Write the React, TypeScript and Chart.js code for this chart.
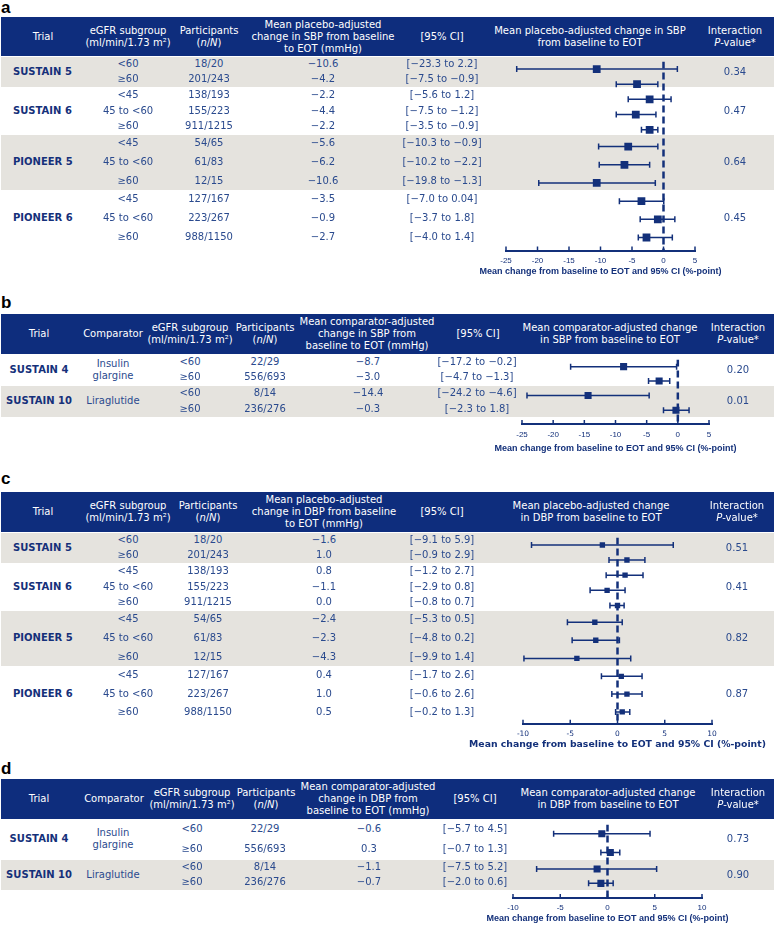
import React, { useEffect, useRef } from "react";
import { Chart, registerables } from "chart.js";
Chart.register(...registerables);

// ---------------- colours ----------------
const NAVY = "#13307a";
const HEADER_BG = "#0e2d7d";
const GREY = "#e5e3de";
const TEXT = "#2a4a8e";
const TRIAL = "#15307a";

// ---------------- panel a data (SBP, placebo) ----------------
const aTrials = ["SUSTAIN 5", "SUSTAIN 6", "PIONEER 5", "PIONEER 6"];
const aGroupSizes = [2, 3, 3, 3];
const aSubgroups = ["<60", "≥60", "<45", "45 to <60", "≥60", "<45", "45 to <60", "≥60", "<45", "45 to <60", "≥60"];
const aParticipants = ["18/20", "201/243", "138/193", "155/223", "911/1215", "54/65", "61/83", "12/15", "127/167", "223/267", "988/1150"];
const aMeans = [-10.6, -4.2, -2.2, -4.4, -2.2, -5.6, -6.2, -10.6, -3.5, -0.9, -2.7];
const aLow = [-23.3, -7.5, -5.6, -7.5, -3.5, -10.3, -10.2, -19.8, -7.0, -3.7, -4.0];
const aHigh = [2.2, -0.9, 1.2, -1.2, -0.9, -0.9, -2.2, -1.3, 0.04, 1.8, 1.4];
const aPValues = ["0.34", "0.47", "0.64", "0.45"];
const aTicks = [-25, -20, -15, -10, -5, 0, 5];

// ---------------- panel b data (SBP, comparator) ----------------
const bTrials = ["SUSTAIN 4", "SUSTAIN 10"];
const bComparators = [["Insulin", "glargine"], ["Liraglutide"]];
const bGroupSizes = [2, 2];
const bSubgroups = ["<60", "≥60", "<60", "≥60"];
const bParticipants = ["22/29", "556/693", "8/14", "236/276"];
const bMeans = [-8.7, -3.0, -14.4, -0.3];
const bLow = [-17.2, -4.7, -24.2, -2.3];
const bHigh = [-0.2, -1.3, -4.6, 1.8];
const bPValues = ["0.20", "0.01"];
const bTicks = [-25, -20, -15, -10, -5, 0, 5];

// ---------------- panel c data (DBP, placebo) ----------------
const cTrials = ["SUSTAIN 5", "SUSTAIN 6", "PIONEER 5", "PIONEER 6"];
const cGroupSizes = [2, 3, 3, 3];
const cSubgroups = ["<60", "≥60", "<45", "45 to <60", "≥60", "<45", "45 to <60", "≥60", "<45", "45 to <60", "≥60"];
const cParticipants = ["18/20", "201/243", "138/193", "155/223", "911/1215", "54/65", "61/83", "12/15", "127/167", "223/267", "988/1150"];
const cMeans = [-1.6, 1.0, 0.8, -1.1, 0.0, -2.4, -2.3, -4.3, 0.4, 1.0, 0.5];
const cLow = [-9.1, -0.9, -1.2, -2.9, -0.8, -5.3, -4.8, -9.9, -1.7, -0.6, -0.2];
const cHigh = [5.9, 2.9, 2.7, 0.8, 0.7, 0.5, 0.2, 1.4, 2.6, 2.6, 1.3];
const cPValues = ["0.51", "0.41", "0.82", "0.87"];
const cTicks = [-10, -5, 0, 5, 10];

// ---------------- panel d data (DBP, comparator) ----------------
const dTrials = ["SUSTAIN 4", "SUSTAIN 10"];
const dComparators = [["Insulin", "glargine"], ["Liraglutide"]];
const dGroupSizes = [2, 2];
const dSubgroups = ["<60", "≥60", "<60", "≥60"];
const dParticipants = ["22/29", "556/693", "8/14", "236/276"];
const dMeans = [-0.6, 0.3, -1.1, -0.7];
const dLow = [-5.7, -0.7, -7.5, -2.0];
const dHigh = [4.5, 1.3, 5.2, 0.6];
const dPValues = ["0.73", "0.90"];
const dTicks = [-10, -5, 0, 5, 10];

const AXIS_TITLE = "Mean change from baseline to EOT and 95% CI (%-point)";

function fmt(v: number): string {
  const a = Math.abs(v);
  const s = Math.round(a * 10) === a * 10 ? a.toFixed(1) : String(a);
  return (v < 0 ? "\u2212" : "") + s;
}

type Head = { x: number; lines: React.ReactNode[] };
type PanelCfg = {
  letter: string;
  letterY: number;
  headerTop: number;
  headerBottom: number;
  headers: Head[];
  trials: string[];
  trialX: number;
  trialAlign: "left" | "center";
  comparators?: string[][];
  comparatorX?: number;
  groupSizes: number[];
  bandHeights: number[];
  greyBands: boolean[];
  subgroups: string[];
  participants: string[];
  means: number[];
  low: number[];
  high: number[];
  pValues: string[];
  cols: { egfr: number; part: number; mean: number; ci: number; p: number };
  axisY: number;
  axisLeft: number;
  axisRight: number;
  ticks: number[];
  tickOff: number;
  titleOff: number;
  markerR: number;
  titleFamily: string;
  titleSize: number;
  tickFamily: string;
  tickSize: number;
};

const CANVAS_LEFT = 400;
const CANVAS_W = 377;

// small upward tick marks + the axis title (drawn without width compression)
const axisDecor = {
  id: "axisDecor",
  afterDraw(chart: any, _args: any, opts: any) {
    const s = chart.scales.x;
    const ctx = chart.ctx;
    ctx.save();
    ctx.strokeStyle = NAVY;
    ctx.lineWidth = 1.5;
    s.ticks.forEach((_t: any, i: number) => {
      const px = s.getPixelForTick(i);
      ctx.beginPath();
      ctx.moveTo(px, s.top);
      ctx.lineTo(px, s.top - 4);
      ctx.stroke();
    });
    ctx.fillStyle = NAVY;
    ctx.font = `bold ${opts.size}px ${opts.family}`;
    ctx.textAlign = "center";
    ctx.textBaseline = "middle";
    ctx.fillText(opts.text, (s.left + s.right) / 2, s.top + opts.offset);
    ctx.restore();
  },
};

function rowCenters(cfg: PanelCfg): { rows: number[]; groups: { top: number; h: number }[] } {
  const rows: number[] = [];
  const groups: { top: number; h: number }[] = [];
  let top = 0;
  cfg.groupSizes.forEach((n, g) => {
    const h = cfg.bandHeights[g];
    const pitch = h / n;
    for (let i = 0; i < n; i++) rows.push(top + pitch * (i + 0.5));
    groups.push({ top, h });
    top += h;
  });
  return { rows, groups };
}

function Forest({ cfg }: { cfg: PanelCfg }) {
  const ref = useRef<HTMLCanvasElement | null>(null);
  const rowsTop = cfg.headerBottom;
  const areaH = cfg.axisY - rowsTop;
  const scaleH = cfg.titleOff + cfg.titleSize;
  const H = Math.round(areaH + scaleH);
  useEffect(() => {
    const { rows } = rowCenters(cfg);
    const datasets: any[] = [];
    datasets.push({
      data: cfg.means.map((m, i) => ({ x: m, y: rows[i] })),
      pointStyle: "rect",
      pointRadius: cfg.markerR,
      backgroundColor: NAVY,
      borderColor: NAVY,
      borderWidth: 0,
      pointBorderWidth: 0,
      showLine: false,
    });
    cfg.low.forEach((lo, i) => {
      datasets.push({
        data: [
          { x: lo, y: rows[i] },
          { x: cfg.high[i], y: rows[i] },
        ],
        showLine: true,
        borderColor: NAVY,
        borderWidth: 1.5,
        pointStyle: "line",
        pointRotation: 90,
        pointRadius: 3,
        pointBorderWidth: 1.5,
        pointBorderColor: NAVY,
        backgroundColor: NAVY,
      });
    });
    datasets.push({
      data: [
        { x: 0, y: 0 },
        { x: 0, y: areaH },
      ],
      showLine: true,
      borderColor: NAVY,
      borderWidth: 2.5,
      borderDash: [7, 4],
      pointRadius: 0,
    });
    const chart = new Chart(ref.current as HTMLCanvasElement, {
      type: "scatter",
      data: { datasets },
      options: {
        responsive: false,
        animation: false,
        devicePixelRatio: 1,
        layout: {
          padding: {
            left: cfg.axisLeft - CANVAS_LEFT,
            right: CANVAS_LEFT + CANVAS_W - cfg.axisRight,
            top: 0,
            bottom: 0,
          },
        },
        plugins: {
          legend: { display: false },
          tooltip: { enabled: false },
          axisDecor: { text: AXIS_TITLE, size: cfg.titleSize, family: cfg.titleFamily, offset: cfg.titleOff },
        },
        scales: {
          x: {
            type: "linear",
            min: cfg.ticks[0],
            max: cfg.ticks[cfg.ticks.length - 1],
            afterBuildTicks: (s: any) => {
              s.ticks = cfg.ticks.map((v) => ({ value: v }));
            },
            afterFit: (s: any) => {
              s.height = scaleH;
              s.paddingLeft = 0;
              s.paddingRight = 0;
            },
            ticks: {
              autoSkip: false,
              maxRotation: 0,
              padding: cfg.tickOff - cfg.tickSize * 0.6,
              color: NAVY,
              font: { family: cfg.tickFamily, size: cfg.tickSize },
            },
            grid: { display: false, drawTicks: false },
            border: { display: true, color: NAVY, width: 2 },
            title: { display: false },
          },
          y: { type: "linear", display: false, min: 0, max: areaH, reverse: true },
        },
      } as any,
      plugins: [axisDecor],
    });
    return () => chart.destroy();
  }, []);
  return (
    <canvas
      ref={ref}
      width={CANVAS_W}
      height={H}
      style={{ position: "absolute", left: CANVAS_LEFT, top: rowsTop, width: CANVAS_W, height: H }}
    />
  );
}

function T({
  x,
  y,
  children,
  align = "center",
  style,
}: {
  x: number;
  y: number;
  children: React.ReactNode;
  align?: "left" | "center";
  style?: React.CSSProperties;
}) {
  return (
    <div
      style={{
        position: "absolute",
        left: x,
        top: y,
        transform: `translate(${align === "center" ? "-50%" : "0"}, -50%)`,
        whiteSpace: "nowrap",
        textAlign: align,
        lineHeight: "12px",
        color: TEXT,
        ...style,
      }}
    >
      {children}
    </div>
  );
}

function Panel({ cfg }: { cfg: PanelCfg }) {
  const { rows, groups } = rowCenters(cfg);
  const rt = cfg.headerBottom;
  const hy = (cfg.headerTop + cfg.headerBottom) / 2;
  return (
    <>
      <T
        x={1}
        y={cfg.letterY}
        align="left"
        style={{ fontFamily: "Liberation Sans", fontWeight: "bold", fontSize: 17, color: "#000", lineHeight: "19px" }}
      >
        {cfg.letter}
      </T>
      <div
        style={{
          position: "absolute",
          left: 1,
          top: cfg.headerTop,
          width: 773,
          height: cfg.headerBottom - cfg.headerTop,
          background: HEADER_BG,
        }}
      />
      {groups.map((g, i) =>
        cfg.greyBands[i] ? (
          <div
            key={"band" + i}
            style={{ position: "absolute", left: 1, top: rt + g.top + 1, width: 773, height: g.h - 1, background: GREY }}
          />
        ) : null
      )}
      <Forest cfg={cfg} />
      {cfg.headers.map((h, i) => (
        <T key={"h" + i} x={h.x} y={hy} style={{ color: "#fff" }}>
          {h.lines.map((l, j) => (
            <div key={j}>{l}</div>
          ))}
        </T>
      ))}
      {cfg.groupSizes.map((_n, g) => {
        const gy = rt + groups[g].top + groups[g].h / 2;
        const els = [
          <T
            key={"t" + g}
            x={cfg.trialX}
            y={gy}
            align={cfg.trialAlign}
            style={{ fontWeight: "bold", color: TRIAL }}
          >
            {cfg.trials[g]}
          </T>,
          <T key={"p" + g} x={cfg.cols.p} y={gy}>
            {cfg.pValues[g]}
          </T>,
        ];
        if (cfg.comparators && cfg.comparatorX) {
          els.push(
            <T key={"c" + g} x={cfg.comparatorX} y={gy}>
              {cfg.comparators[g].map((l, j) => (
                <div key={j}>{l}</div>
              ))}
            </T>
          );
        }
        return els;
      })}
      {rows.map((ry, i) => {
        const y = rt + ry;
        return (
          <React.Fragment key={"r" + i}>
            <T x={cfg.cols.egfr} y={y}>{cfg.subgroups[i]}</T>
            <T x={cfg.cols.part} y={y}>{cfg.participants[i]}</T>
            <T x={cfg.cols.mean} y={y}>{fmt(cfg.means[i])}</T>
            <T x={cfg.cols.ci} y={y}>
              [{fmt(cfg.low[i])} to {fmt(cfg.high[i])}]
            </T>
          </React.Fragment>
        );
      })}
    </>
  );
}

const nN = (
  <>
    (<i>n</i>/<i>N</i>)
  </>
);
const pv = (
  <>
    <i>P</i>-value*
  </>
);

const panelA: PanelCfg = {
  letter: "a",
  letterY: 7,
  headerTop: 17,
  headerBottom: 56,
  headers: [
    { x: 43, lines: ["Trial"] },
    { x: 128, lines: ["eGFR subgroup", "(ml/min/1.73 m²)"] },
    { x: 209, lines: ["Participants", nN] },
    { x: 323, lines: ["Mean placebo-adjusted", "change in SBP from baseline", "to EOT (mmHg)"] },
    { x: 442, lines: ["[95% CI]"] },
    { x: 590, lines: ["Mean placebo-adjusted change in SBP", "from baseline to EOT"] },
    { x: 735, lines: ["Interaction", pv] },
  ],
  trials: aTrials,
  trialX: 13,
  trialAlign: "left",
  groupSizes: aGroupSizes,
  bandHeights: [31, 47, 56, 56],
  greyBands: [true, false, true, false],
  subgroups: aSubgroups,
  participants: aParticipants,
  means: aMeans,
  low: aLow,
  high: aHigh,
  pValues: aPValues,
  cols: { egfr: 128, part: 209, mean: 323, ci: 442, p: 735 },
  axisY: 250,
  axisLeft: 506,
  axisRight: 695,
  ticks: aTicks,
  tickOff: 10.5,
  titleOff: 21.5,
  markerR: 5.5,
  titleFamily: "Liberation Sans",
  titleSize: 9,
  tickFamily: "Liberation Sans",
  tickSize: 8,
};

const panelB: PanelCfg = {
  letter: "b",
  letterY: 302,
  headerTop: 314,
  headerBottom: 354,
  headers: [
    { x: 39, lines: ["Trial"] },
    { x: 113, lines: ["Comparator"] },
    { x: 190, lines: ["eGFR subgroup", "(ml/min/1.73 m²)"] },
    { x: 265, lines: ["Participants", nN] },
    { x: 367, lines: ["Mean comparator-adjusted", "change in SBP from", "baseline to EOT (mmHg)"] },
    { x: 478, lines: ["[95% CI]"] },
    { x: 610, lines: ["Mean comparator-adjusted change", "in SBP from baseline to EOT"] },
    { x: 738, lines: ["Interaction", pv] },
  ],
  trials: bTrials,
  trialX: 39,
  trialAlign: "center",
  comparators: bComparators,
  comparatorX: 113,
  groupSizes: bGroupSizes,
  bandHeights: [31, 32],
  greyBands: [false, true],
  subgroups: bSubgroups,
  participants: bParticipants,
  means: bMeans,
  low: bLow,
  high: bHigh,
  pValues: bPValues,
  cols: { egfr: 190, part: 265, mean: 368, ci: 477, p: 738 },
  axisY: 424,
  axisLeft: 522,
  axisRight: 709,
  ticks: bTicks,
  tickOff: 11,
  titleOff: 25,
  markerR: 5,
  titleFamily: "Liberation Sans",
  titleSize: 9,
  tickFamily: "Liberation Sans",
  tickSize: 8,
};

const panelC: PanelCfg = {
  letter: "c",
  letterY: 478,
  headerTop: 492,
  headerBottom: 532,
  headers: [
    { x: 43, lines: ["Trial"] },
    { x: 128, lines: ["eGFR subgroup", "(ml/min/1.73 m²)"] },
    { x: 208, lines: ["Participants", nN] },
    { x: 324, lines: ["Mean placebo-adjusted", "change in DBP from baseline", "to EOT (mmHg)"] },
    { x: 442, lines: ["[95% CI]"] },
    { x: 591, lines: ["Mean placebo-adjusted change", "in DBP from baseline to EOT"] },
    { x: 737, lines: ["Interaction", pv] },
  ],
  trials: cTrials,
  trialX: 13,
  trialAlign: "left",
  groupSizes: cGroupSizes,
  bandHeights: [31, 47, 56, 55],
  greyBands: [true, false, true, false],
  subgroups: cSubgroups,
  participants: cParticipants,
  means: cMeans,
  low: cLow,
  high: cHigh,
  pValues: cPValues,
  cols: { egfr: 128, part: 208, mean: 324, ci: 442, p: 737 },
  axisY: 724,
  axisLeft: 523,
  axisRight: 712,
  ticks: cTicks,
  tickOff: 10,
  titleOff: 21,
  markerR: 3.8,
  titleFamily: "DejaVu Sans",
  titleSize: 9.3,
  tickFamily: "DejaVu Sans",
  tickSize: 7.5,
};

const panelD: PanelCfg = {
  letter: "d",
  letterY: 768,
  headerTop: 779,
  headerBottom: 819,
  headers: [
    { x: 39, lines: ["Trial"] },
    { x: 114, lines: ["Comparator"] },
    { x: 192, lines: ["eGFR subgroup", "(ml/min/1.73 m²)"] },
    { x: 266, lines: ["Participants", nN] },
    { x: 368, lines: ["Mean comparator-adjusted", "change in DBP from", "baseline to EOT (mmHg)"] },
    { x: 475, lines: ["[95% CI]"] },
    { x: 608, lines: ["Mean comparator-adjusted change", "in DBP from baseline to EOT"] },
    { x: 738, lines: ["Interaction", pv] },
  ],
  trials: dTrials,
  trialX: 39,
  trialAlign: "center",
  comparators: dComparators,
  comparatorX: 113,
  groupSizes: dGroupSizes,
  bandHeights: [40, 31],
  greyBands: [false, true],
  subgroups: dSubgroups,
  participants: dParticipants,
  means: dMeans,
  low: dLow,
  high: dHigh,
  pValues: dPValues,
  cols: { egfr: 192, part: 265, mean: 369, ci: 475, p: 738 },
  axisY: 898,
  axisLeft: 513,
  axisRight: 702,
  ticks: dTicks,
  tickOff: 10,
  titleOff: 21,
  markerR: 5,
  titleFamily: "Liberation Sans",
  titleSize: 9,
  tickFamily: "Liberation Sans",
  tickSize: 8,
};

export default function App() {
  return (
    <div
      style={{
        position: "absolute",
        left: 0,
        top: 0,
        width: 777,
        height: 928,
        background: "#fff",
        fontFamily: "'DejaVu Sans', Verdana, sans-serif",
        fontSize: 10,
        overflow: "hidden",
      }}
    >
      <Panel cfg={panelA} />
      <Panel cfg={panelB} />
      <Panel cfg={panelC} />
      <Panel cfg={panelD} />
    </div>
  );
}
